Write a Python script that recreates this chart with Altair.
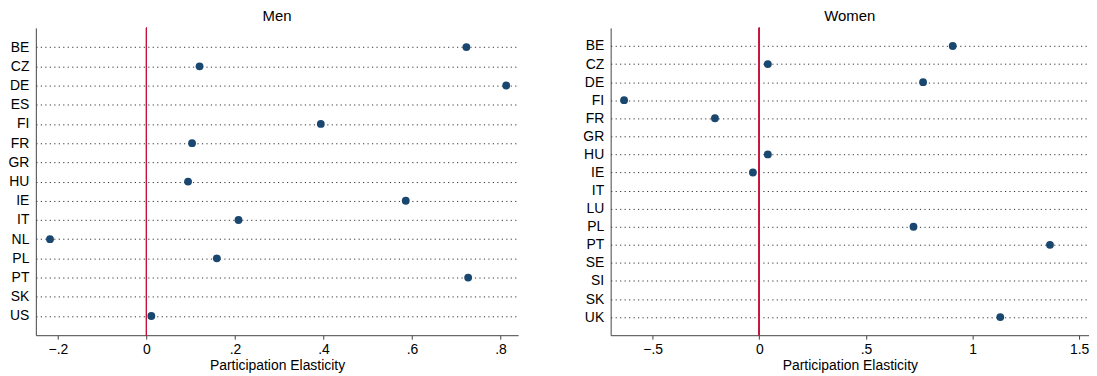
import altair as alt
import pandas as pd

men_countries = ["BE", "CZ", "DE", "ES", "FI", "FR", "GR", "HU", "IE", "IT", "NL", "PL", "PT", "SK", "US"]
men_values = [0.723, 0.120, 0.813, None, 0.394, 0.103, None, 0.094, 0.586, 0.208, -0.218, 0.159, 0.727, None, 0.011]

women_countries = ["BE", "CZ", "DE", "FI", "FR", "GR", "HU", "IE", "IT", "LU", "PL", "PT", "SE", "SI", "SK", "UK"]
women_values = [0.907, 0.040, 0.768, -0.634, -0.208, None, 0.040, -0.030, None, None, 0.723, 1.363, None, None, None, 1.130]

men_ticks = [-0.2, 0, 0.2, 0.4, 0.6, 0.8]
women_ticks = [-0.5, 0, 0.5, 1, 1.5]

NAVY = "#1a476f"
RED = "#c8143c"
AXIS = "#444444"
FONT = "Liberation Sans"


def panel(title, cats, vals, domain, ticks, width):
    df = pd.DataFrame({"country": cats, "value": vals})
    xs = alt.Scale(domain=domain, nice=False, zero=False)
    pts = alt.Chart(df).mark_circle(size=62, color=NAVY, opacity=1).encode(
        x=alt.X(
            "value:Q",
            scale=xs,
            title="Participation Elasticity",
            axis=alt.Axis(
                values=ticks,
                labelExpr="replace(format(datum.value, '~g'), '0.', '.')",
                grid=False,
                domainColor=AXIS,
                tickColor=AXIS,
                tickSize=4,
                labelPadding=3,
                titlePadding=2,
                labelFlush=False,
            ),
        ),
        y=alt.Y(
            "country:N",
            sort=None,
            scale=alt.Scale(type="point", domain=cats, padding=1.4),
            title=None,
            axis=alt.Axis(
                ticks=False,
                tickSize=0,
                grid=True,
                gridDash=[1.2, 3.3],
                gridColor="#333333",
                gridWidth=1,
                domainColor=AXIS,
                labelPadding=7,
                minExtent=26,
                maxExtent=26,
            ),
        ),
    )
    zero = alt.Chart(df).mark_rule(color=RED, strokeWidth=1).encode(x=alt.datum(0))
    return alt.layer(zero, pts).properties(
        width=width,
        height=309,
        title=alt.TitleParams(
            title, fontSize=15, fontWeight="normal", offset=3, anchor="middle",
            color="black", font=FONT,
        ),
    )


left = panel("Men", men_countries, men_values, [-0.25, 0.84], men_ticks, 485)
right = panel("Women", women_countries, women_values, [-0.697, 1.546], women_ticks, 481)

chart = (
    alt.hconcat(left, right, spacing=65)
    .properties(padding=0, background="white")
    .configure_view(stroke=None)
    .configure_axis(
        labelFont=FONT,
        titleFont=FONT,
        labelFontSize=14,
        titleFontSize=14,
        titleFontWeight="normal",
        labelColor="black",
        titleColor="black",
    )
)

chart.save("out.html", embed_options={"renderer": "svg", "actions": False})
